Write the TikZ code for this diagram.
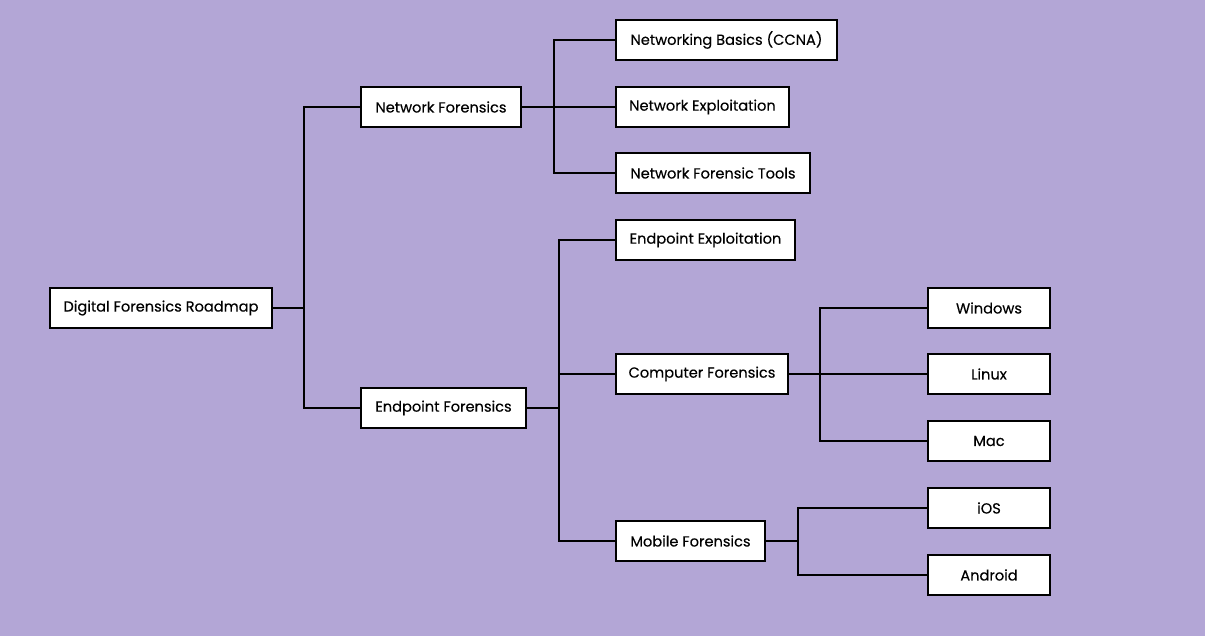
\documentclass[tikz,border=0pt]{standalone}
\usepackage{fontspec}
\setmainfont[FakeBold=0.3]{Poppins}
\usetikzlibrary{shadows}
\definecolor{bgc}{RGB}{179,166,214}
\tikzset{
  box/.style={draw=black, line width=2.4pt, fill=white, minimum height=40pt, inner sep=0pt,
    font=\fontsize{14.6}{16}\selectfont, text=black,
    drop shadow={shadow xshift=1pt, shadow yshift=-1.2pt, fill=black, opacity=1}},
  link/.style={draw=black, line width=2.4pt}
}
\begin{document}
\begin{tikzpicture}[x=1pt,y=-1pt]
\fill[bgc] (0,0) rectangle (1205,636);
\useasboundingbox (0,0) rectangle (1205,636);
% bus coordinates
\coordinate (b1) at (304,0);
\coordinate (b2) at (554,0);
\coordinate (b3) at (559,0);
\coordinate (b4) at (820,0);
\coordinate (b5) at (798,0);
% nodes
\node[box, minimum width=222pt] (root) at (161,308) {Digital Forensics Roadmap};
\node[box, minimum width=160pt] (nf) at (441,107) {Network Forensics};
\node[box, minimum width=165pt] (ef) at (443.5,408) {Endpoint Forensics};
\node[box, minimum width=221pt] (nb) at (726.5,40) {Networking Basics (CCNA)};
\node[box, minimum width=173pt] (ne) at (702.5,107) {Network Exploitation};
\node[box, minimum width=194pt] (nt) at (713,173) {Network Forensic Tools};
\node[box, minimum width=179pt] (ee) at (705.5,240) {Endpoint Exploitation};
\node[box, minimum width=172pt] (cf) at (702,374) {Computer Forensics};
\node[box, minimum width=149pt] (mf) at (690.5,541) {Mobile Forensics};
\node[box, minimum width=122pt] (win) at (989,308) {Windows};
\node[box, minimum width=122pt] (lin) at (989,374) {Linux};
\node[box, minimum width=122pt] (mac) at (989,441) {Mac};
\node[box, minimum width=122pt] (ios) at (989,508) {iOS};
\node[box, minimum width=122pt] (and) at (989,575) {Android};
% connectors
\draw[link] (root.east) -- (root.east -| b1) |- (nf.west);
\draw[link] (root.east -| b1) |- (ef.west);
\draw[link] (nf.east) -- (nf.east -| b2) |- (nb.west);
\draw[link] (nf.east -| b2) -- (ne.west);
\draw[link] (nf.east -| b2) |- (nt.west);
\draw[link] (ef.east) -- (ef.east -| b3) |- (ee.west);
\draw[link] (ef.east -| b3) |- (cf.west);
\draw[link] (ef.east -| b3) |- (mf.west);
\draw[link] (cf.east) -- (cf.east -| b4) |- (win.west);
\draw[link] (cf.east -| b4) -- (lin.west);
\draw[link] (cf.east -| b4) |- (mac.west);
\draw[link] (mf.east) -- (mf.east -| b5) |- (ios.west);
\draw[link] (mf.east -| b5) |- (and.west);
\end{tikzpicture}
\end{document}
